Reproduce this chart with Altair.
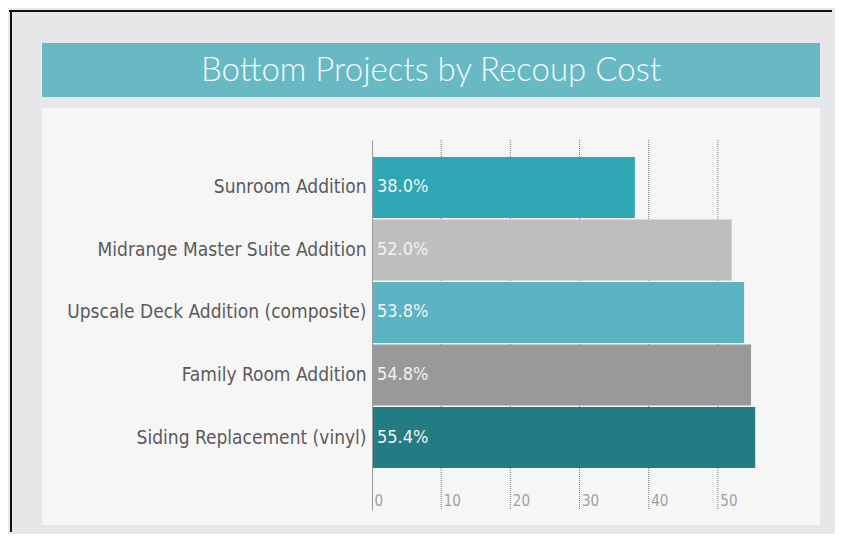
import altair as alt
import pandas as pd

TITLE = "Bottom Projects by Recoup Cost"
projects = ["Sunroom Addition", "Midrange Master Suite Addition",
            "Upscale Deck Addition (composite)", "Family Room Addition",
            "Siding Replacement (vinyl)"]
recoup = [38.0, 52.0, 53.8, 54.8, 55.4]
bar_colors = ["#2ea6b4", "#bebebe", "#5cb4c3", "#999999", "#237b84"]
tick_values = [0, 10, 20, 30, 40, 50]

df = pd.DataFrame({"project": projects, "recoup": recoup,
                   "label": [f"{v:.1f}%" for v in recoup]})
grid_df = pd.DataFrame({"tick": tick_values[1:]})

LABEL_FONT = "DejaVu Sans Condensed, Liberation Sans Narrow, Roboto, sans-serif"

xscale = alt.Scale(domain=[0, 60], nice=False, zero=True)
yscale = alt.Scale(domain=projects, paddingInner=0.025, paddingOuter=0.472, align=0.288)

# decorative frame (border lines, title banner, panel)
one = pd.DataFrame({"a": [0]})
border_top = alt.Chart(one).mark_rule(color="#111111", strokeWidth=2, clip=False).encode(
    x=alt.value(-363), x2=alt.value(460), y=alt.value(-129))
border_left = alt.Chart(one).mark_rule(color="#111111", strokeWidth=2, clip=False).encode(
    x=alt.value(-361), y=alt.value(-130), y2=alt.value(392))
banner = alt.Chart(one).mark_rect(fill="#68b9c3", clip=False).encode(
    x=alt.value(-330), x2=alt.value(448), y=alt.value(-97), y2=alt.value(-43))
panel = alt.Chart(one).mark_rect(fill="#f6f6f6", clip=False).encode(
    x=alt.value(-330), x2=alt.value(448), y=alt.value(-32), y2=alt.value(385))
title = alt.Chart(one).mark_text(text=TITLE, font="Lato", fontWeight=300, fontSize=33,
                                 color="#f4fafb", align="center", baseline="middle", clip=False).encode(
    x=alt.value(59), y=alt.value(-69))

grid = alt.Chart(grid_df).mark_rule(color="#7a7a7a", strokeDash=[1, 1], strokeWidth=1).encode(
    x=alt.X("tick:Q", scale=xscale), y=alt.value(0), y2=alt.value(370))

bars = alt.Chart(df).mark_bar(cornerRadius=0).encode(
    y=alt.Y("project:N", scale=yscale, sort=projects,
            axis=alt.Axis(title=None, ticks=False, domain=True, domainColor="#9a9a9a",
                          labelFont=LABEL_FONT, labelFontSize=19, labelColor="#5a5a5a",
                          labelPadding=6, zindex=1, labelLimit=400)),
    x=alt.X("recoup:Q", scale=xscale,
            axis=alt.Axis(title=None, values=tick_values, grid=False, ticks=False, domain=False,
                          labelFont=LABEL_FONT, labelFontSize=15, labelColor="#a0a0a0",
                          labelAlign="left", labelOffset=2, labelBaseline="top",
                          offset=-17, labelPadding=0, zindex=1)),
    color=alt.Color("project:N", scale=alt.Scale(domain=projects, range=bar_colors), legend=None),
)

labels = alt.Chart(df).mark_text(align="left", baseline="middle", dx=5, font=LABEL_FONT,
                                 fontSize=18, color="#f2f2f2").encode(
    y=alt.Y("project:N", scale=yscale, sort=projects),
    x=alt.datum(0),
    text="label:N")

chart = alt.layer(border_top, border_left, banner, panel, title, grid, bars, labels).properties(
    width=415, height=370,
    autosize=alt.AutoSizeParams(type="none"),
    padding={"left": 364, "top": 132, "right": 48, "bottom": 24},
).configure(background="#e5e7e8").configure_view(stroke=None)

chart.save("out.html", embed_options={"renderer": "svg", "actions": False})
